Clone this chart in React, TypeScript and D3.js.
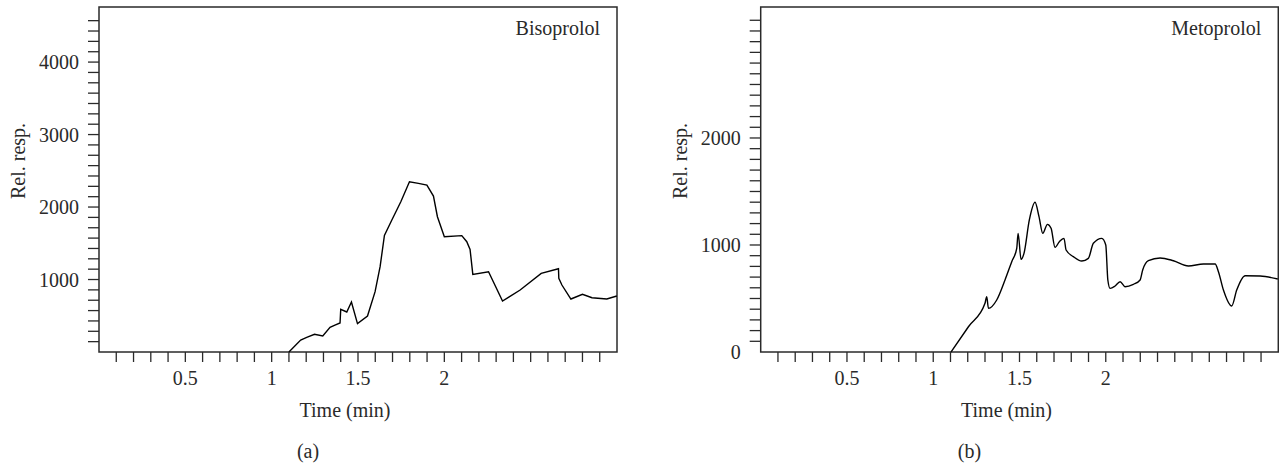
import React from 'react';
import * as d3 from 'd3';

// Bisoprolol trace (time in min, relative response)
const bisoTime = [1.1, 1.168, 1.203, 1.248, 1.296, 1.338, 1.363, 1.396, 1.4, 1.435, 1.462, 1.497, 1.555, 1.599, 1.628, 1.653, 1.696, 1.748, 1.798, 1.85, 1.899, 1.937, 1.96, 2.0, 2.101, 2.13, 2.149, 2.165, 2.256, 2.337, 2.439, 2.561, 2.661, 2.663, 2.681, 2.733, 2.8, 2.855, 2.941, 2.999];
const bisoResp = [0, 165, 202, 244, 220, 340, 368, 400, 589, 552, 690, 391, 497, 832, 1177, 1609, 1821, 2073, 2349, 2327, 2303, 2152, 1866, 1591, 1605, 1522, 1416, 1071, 1108, 703, 855, 1085, 1149, 1016, 924, 731, 796, 749, 731, 772];

// Metoprolol trace
const metoTime = [1.103, 1.204, 1.3, 1.31, 1.32, 1.368, 1.416, 1.455, 1.484, 1.492, 1.509, 1.526, 1.557, 1.59, 1.613, 1.635, 1.662, 1.683, 1.706, 1.731, 1.758, 1.77, 1.812, 1.861, 1.899, 1.928, 1.977, 2.0, 2.012, 2.025, 2.054, 2.083, 2.112, 2.16, 2.199, 2.214, 2.247, 2.315, 2.392, 2.479, 2.566, 2.634, 2.653, 2.682, 2.73, 2.759, 2.808, 2.895, 2.997];
const metoResp = [0, 236, 455, 517, 408, 486, 673, 844, 969, 1109, 866, 922, 1234, 1399, 1265, 1109, 1193, 1156, 978, 1031, 1062, 953, 891, 850, 875, 1016, 1062, 1000, 673, 595, 617, 657, 610, 632, 673, 766, 853, 879, 853, 804, 822, 822, 750, 579, 430, 579, 713, 710, 682];

const xTickLabels = [0.5, 1, 1.5, 2];
const xMinorTicks = d3.range(1, 30).map(i => i / 10);
const bisoYLabels = [1000, 2000, 3000, 4000];
const metoYLabels = [0, 1000, 2000];

const FONT = '"Liberation Serif", "DejaVu Serif", serif';
const INK = '#2a2a2a';

type PanelProps = {
  left: number;
  right: number;
  yMax: number;
  yTicks: number[];
  yLabels: number[];
  times: number[];
  resp: number[];
  name: string;
  tag: string;
  smooth: boolean;
};

const Panel = ({ left, right, yMax, yTicks, yLabels, times, resp, name, tag, smooth }: PanelProps) => {
  const top = 7;
  const bottom = 352;
  const x = d3.scaleLinear().domain([0, 3]).range([left, right]);
  const y = d3.scaleLinear().domain([0, yMax]).range([bottom, top]);

  const pts = times.map((t, i) => [t, resp[i]] as [number, number]);
  const line = d3.line<[number, number]>()
    .x(d => x(d[0]))
    .y(d => y(d[1]))
    .curve(smooth ? d3.curveMonotoneX : d3.curveLinear);

  const midX = (left + right) / 2 - 13;

  return (
    <g fontFamily={FONT} fill={INK}>
      {yTicks.map(v => (
        <line key={'yt' + v} x1={left - 11} x2={left} y1={y(v)} y2={y(v)} stroke={INK} strokeWidth={1.3} />
      ))}
      {yLabels.map(v => (
        <text key={'yl' + v} x={left - 20} y={y(v)} dy="0.35em" textAnchor="end" fontSize={20}>{v}</text>
      ))}
      {xMinorTicks.map(v => (
        <line key={'xt' + v} x1={x(v)} x2={x(v)} y1={bottom} y2={bottom + 10} stroke={INK} strokeWidth={1.3} />
      ))}
      {xTickLabels.map(v => (
        <text key={'xl' + v} x={x(v)} y={385} textAnchor="middle" fontSize={20}>{v}</text>
      ))}
      <rect x={left} y={top} width={right - left} height={bottom - top} fill="none" stroke={INK} strokeWidth={1.5} />
      <path d={line(pts) || ''} fill="none" stroke="#000" strokeWidth={1.4} />
      <text x={right - 17} y={35} textAnchor="end" fontSize={20}>{name}</text>
      <text x={midX} y={417} textAnchor="middle" fontSize={20}>Time (min)</text>
      <text x={midX - 37} y={458} textAnchor="middle" fontSize={20}>{tag}</text>
      <text transform={`translate(${left - 81},${161}) rotate(-90)`} dy="0.35em" textAnchor="middle" fontSize={20}>Rel. resp.</text>
    </g>
  );
};

const App = () => {
  return (
    <div style={{ position: 'absolute', left: 0, top: 0 }}>
      <svg width={1279} height={465} style={{ display: 'block', background: '#fff' }}>
        <Panel
          left={99}
          right={617}
          yMax={4760}
          yTicks={d3.range(1, 33).map(i => (i * 1000) / 7)}
          yLabels={bisoYLabels}
          times={bisoTime}
          resp={bisoResp}
          name="Bisoprolol"
          tag="(a)"
          smooth={false}
        />
        <Panel
          left={760.7}
          right={1278.3}
          yMax={3224}
          yTicks={d3.range(1, 32).map(i => i * 100)}
          yLabels={metoYLabels}
          times={metoTime}
          resp={metoResp}
          name="Metoprolol"
          tag="(b)"
          smooth={true}
        />
      </svg>
    </div>
  );
};

export default App;
